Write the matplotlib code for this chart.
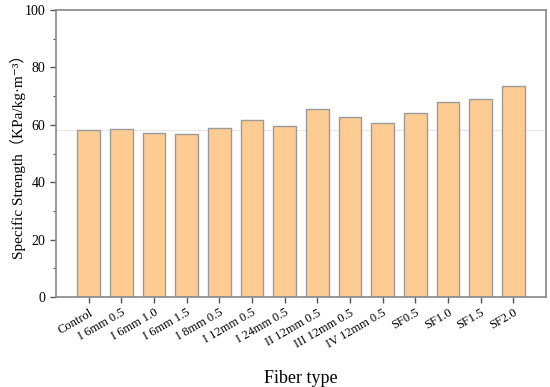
import matplotlib
matplotlib.use("Agg")
import matplotlib.pyplot as plt
from matplotlib.ticker import MultipleLocator

categories = ["Control", "I 6mm 0.5", "I 6mm 1.0", "I 6mm 1.5", "I 8mm 0.5",
              "I 12mm 0.5", "I 24mm 0.5", "II 12mm 0.5", "III 12mm 0.5",
              "IV 12mm 0.5", "SF0.5", "SF1.0", "SF1.5", "SF2.0"]
values = [58.1, 58.6, 57.0, 56.9, 58.8, 61.7, 59.6, 65.4, 62.7, 60.6,
          64.0, 68.0, 68.9, 73.4]
yticks = [0, 20, 40, 60, 80, 100]

plt.rcParams['font.family'] = ['Liberation Serif', 'Noto Sans CJK SC', 'DejaVu Sans']

fig = plt.figure(figsize=(5.5, 3.87), dpi=100)
ax = fig.add_axes([56/550, 1-297/387, 490/550, 287/387])

x = list(range(len(categories)))
ax.bar(x, values, width=0.7, color='#FECC93', edgecolor='#9a9a9a', linewidth=1.0, zorder=2)
ax.axhline(values[0], color='#e6e6e6', linewidth=0.8, zorder=1)

ax.set_xlim(-1, len(categories))
ax.set_ylim(0, 100)
ax.set_yticks(yticks)
ax.yaxis.set_minor_locator(MultipleLocator(10))
ax.set_xticks(x)
ax.set_xticklabels(categories, rotation=30, ha='right', rotation_mode='anchor', fontsize=9)
ax.tick_params(axis='y', labelsize=10, direction='out', length=4, width=1, color='#555555')
ax.tick_params(axis='y', which='minor', direction='out', length=2, width=0.8, color='#555555')
ax.tick_params(axis='x', direction='out', length=4, width=1, color='#555555', pad=3)
for s in ax.spines.values():
    s.set_color('#888888')
    s.set_linewidth(1.2)

ax.set_ylabel('Specific Strength（KPa/kg·m⁻³）', fontsize=11)
ax.yaxis.set_label_coords(-0.062, 0.5)
ax.set_xlabel('Fiber type', fontsize=13, labelpad=14)

fig.savefig('out.png', dpi=100)
